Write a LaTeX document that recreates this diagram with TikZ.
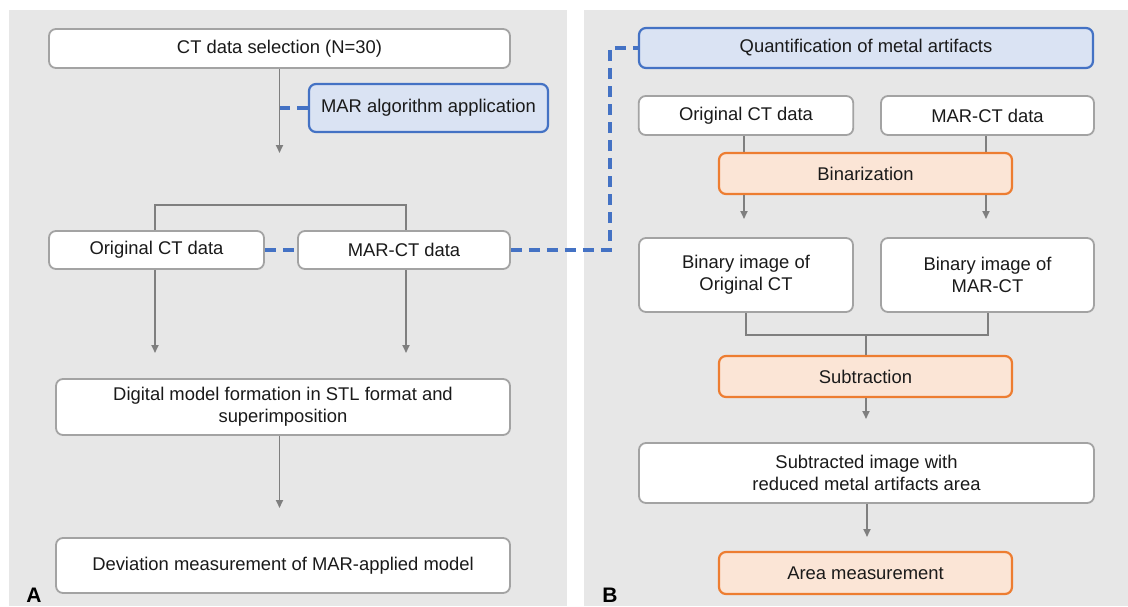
\documentclass[tikz,border=0pt]{standalone}
\usepackage{fontspec}
\setmainfont{Liberation Sans}
\usetikzlibrary{arrows.meta}
\definecolor{panelgray}{HTML}{E7E7E7}
\definecolor{boxgray}{HTML}{A3A3A3}
\definecolor{linegray}{HTML}{7F7F7F}
\definecolor{mblue}{HTML}{4472C4}
\definecolor{lblue}{HTML}{DAE3F3}
\definecolor{morange}{HTML}{ED7D31}
\definecolor{lorange}{HTML}{FBE5D6}
\definecolor{txt}{HTML}{1A1A1A}
\begin{document}
\begin{tikzpicture}[x=1pt,y=-1pt,
 box/.style={draw=boxgray, line width=1.8pt, fill=white, rounded corners=7pt, inner sep=0pt, align=center, font=\fontsize{18.4}{22}\selectfont, text=txt},
 bluebox/.style={box, draw=mblue, fill=lblue, line width=2.2pt},
 orbox/.style={box, draw=morange, fill=lorange, line width=2.2pt},
 conn/.style={draw=linegray, line width=1.8pt},
 arr/.style={conn, -{Triangle[length=8pt,width=7pt]}},
 dashlink/.style={draw=mblue, line width=3.2pt, dash pattern=on 11pt off 7pt},
 panel/.style={fill=panelgray, draw=none},
 plabel/.style={font=\fontsize{21}{24}\selectfont\bfseries, anchor=base, inner sep=0pt, text=black}
]
\useasboundingbox (0,0) rectangle (1128,606);
\fill[white] (0,0) rectangle (1128,606);
\fill[panel] (9,10) rectangle (567,606);
\fill[panel] (584,10) rectangle (1128,606);

% ---------- Panel A ----------
\node[box, minimum width=461pt, minimum height=39pt] (sel) at (279.5,48.5) {CT data selection (N=30)};
\node[bluebox, minimum width=239pt, minimum height=48pt] (mar) at (428.5,108) {MAR algorithm application};
\node[box, minimum width=215pt, minimum height=38pt] (origA) at (156.5,250) {Original CT data};
\node[box, minimum width=212pt, minimum height=38pt] (marA) at (404,250) {MAR-CT data};
\node[box, minimum width=454pt, minimum height=56pt] (dig) at (283,407) {Digital model formation in STL format and\\superimposition};
\node[box, minimum width=454pt, minimum height=55pt] (dev) at (283,565.5) {Deviation measurement of MAR-applied model};

\coordinate (a1) at (279.5,153);
\draw[arr] (sel.south) -- (a1);
\draw[dashlink] (mar.west) -- (mar.west -| sel.south);
\draw[conn] (origA.north -| 155,0) -- (155,205) -- (406,205) -- (marA.north -| 406,0);
\draw[dashlink] (origA.east) -- (marA.west);
\coordinate (a2) at (155,353);
\coordinate (a3) at (406,353);
\draw[arr] (origA.south -| a2) -- (a2);
\draw[arr] (marA.south -| a3) -- (a3);
\coordinate (a4) at (279.5,508);
\draw[arr] (dig.south -| a4) -- (a4);

\node[plabel] (labA) at (34,602) {A};

% ---------- Panel B ----------
\node[bluebox, minimum width=454pt, minimum height=40pt] (quant) at (866,48) {Quantification of metal artifacts};
\node[box, minimum width=214.5pt, minimum height=39pt] (origB) at (746,115.5) {Original CT data};
\node[box, minimum width=213pt, minimum height=39pt] (marB) at (987.5,115.5) {MAR-CT data};
\draw[conn] (origB.south -| 744,0) -- (744,153);
\draw[conn] (marB.south -| 986,0) -- (986,153);
\node[orbox, minimum width=293pt, minimum height=41pt] (bin) at (865.5,173.5) {Binarization};
\coordinate (b1) at (744,219);
\coordinate (b2) at (986,219);
\draw[arr] (bin.south -| b1) -- (b1);
\draw[arr] (bin.south -| b2) -- (b2);
\node[box, minimum width=214pt, minimum height=74pt] (binO) at (746,275) {Binary image of\\Original CT};
\node[box, minimum width=213pt, minimum height=74pt] (binM) at (987.5,275) {Binary image of\\MAR-CT};
\node[orbox, minimum width=293pt, minimum height=41pt] (sub) at (865.5,376.5) {Subtraction};
\draw[conn] (binO.south -| 746,0) -- (746,335) -- (988,335) -- (binM.south -| 988,0);
\draw[conn] (866,335) -- (sub.north -| 866,0);
\coordinate (b3) at (866,419);
\draw[arr] (sub.south -| b3) -- (b3);
\node[box, minimum width=455pt, minimum height=60pt] (subimg) at (866.5,473) {Subtracted image with\\reduced metal artifacts area};
\coordinate (b4) at (867,537);
\draw[arr] (subimg.south -| b4) -- (b4);
\node[orbox, minimum width=293pt, minimum height=42pt] (area) at (865.5,573) {Area measurement};

\node[plabel] (labB) at (610,602) {B};

% ---------- cross-panel dashed link ----------
\draw[dashlink] (marA.east) -- (610,250) -- (610,48) -- (quant.west);
\end{tikzpicture}
\end{document}
